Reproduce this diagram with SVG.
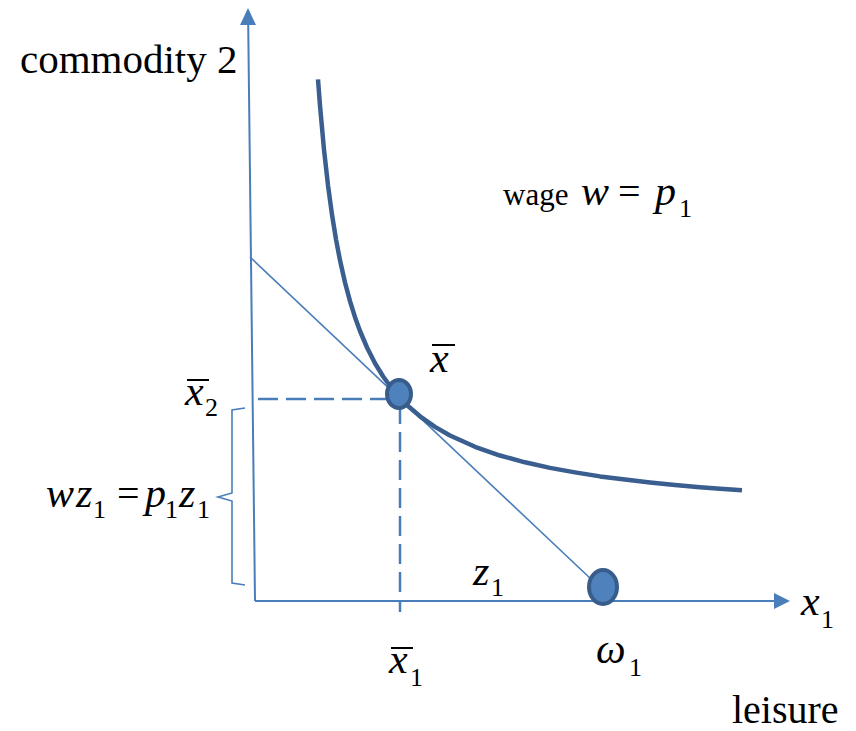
<svg xmlns="http://www.w3.org/2000/svg" width="856" height="731" viewBox="0 0 856 731">
<style>
.ax{stroke:#4A7EBB;stroke-width:2;fill:none}
.bl{stroke:#4A7EBB;stroke-width:1.6;fill:none}
.ds{stroke:#4A7EBB;stroke-width:2.5;fill:none;stroke-dasharray:20 8}
.ic{stroke:#3A5E8F;stroke-width:4.5;fill:none;stroke-linejoin:round}
.pt{fill:#4F81BD;stroke:#385D8A;stroke-width:4}
.ah{fill:#4A7EBB}
.bar{stroke:#000;stroke-width:2}
</style>
<g id="connectors">
<path class="ax" d="M255,601 L248.2,24"/>
<path class="ah" d="M248,8 L256,25 L240,25 Z"/>
<path class="ax" d="M255,601 L775,601"/>
<path class="ah" d="M790,601 L774,593 L774,609 Z"/>
<path class="bl" d="M250,257 L592,580"/>
<path class="ds" d="M258,399 L396,399"/>
<path class="ds" d="M400,404 L400,612"/>
<path class="bl" d="M245,408 L232,410 L232,493 L218,497 L232,501 L232,583 L245,585"/>
</g>
<g id="indifference-curve">
<path class="ic" d="M318,79.4 L320,105.6 L324,149.6 L328,185.3 L332,214.7 L336,239.3 L340,260.3 L345,282.5 L350,301.2 L355,317.2 L360,331 L367,347.5 L375,363.2 L383,376.2 L390,386 L398,395.7 L408,406 L420,416.3 L435,426.9 L450,435.5 L475,446.8 L500,455.5 L525,462.3 L550,467.9 L575,472.4 L600,476.4 L625,479.6 L650,482.5 L675,485 L700,487.2 L720,488.8 L742,490.3"/>
</g>
<g id="point-xbar">
<ellipse class="pt" cx="399" cy="394" rx="12" ry="14"/>
</g>
<g id="point-omega">
<ellipse class="pt" cx="603" cy="587" rx="14" ry="17"/>
</g>
<g id="labels" fill="#000">
<text x="20" y="73" font-size="41" font-family="Liberation Serif, Tinos, Times New Roman, serif">commodity 2</text>
<text x="732" y="723" font-size="40" font-family="Liberation Serif, Tinos, Times New Roman, serif">leisure</text>
<text x="503" y="205" font-size="31" font-family="Liberation Serif, Tinos, Times New Roman, serif">wage</text>
<text x="581" y="205" font-size="42" font-style="italic" font-family="Liberation Serif, Tinos, Times New Roman, serif">w</text>
<text x="618" y="205" font-size="40" font-family="Liberation Serif, Tinos, Times New Roman, serif">=</text>
<text x="655" y="205" font-size="42" font-style="italic" font-family="Liberation Serif, Tinos, Times New Roman, serif">p</text>
<text x="679" y="217" font-size="26" font-family="Liberation Serif, Tinos, Times New Roman, serif">1</text>
<text x="430" y="372" font-size="42" font-style="italic" font-family="Liberation Serif, Tinos, Times New Roman, serif">x</text>
<text x="185" y="405" font-size="42" font-style="italic" font-family="Liberation Serif, Tinos, Times New Roman, serif">x</text>
<text x="205" y="416" font-size="26" font-family="Liberation Serif, Tinos, Times New Roman, serif">2</text>
<text x="46" y="507" font-size="42" font-style="italic" font-family="Liberation Serif, Tinos, Times New Roman, serif">w</text>
<text x="76" y="507" font-size="42" font-style="italic" font-family="Liberation Serif, Tinos, Times New Roman, serif">z</text>
<text x="93" y="518" font-size="26" font-family="Liberation Serif, Tinos, Times New Roman, serif">1</text>
<text x="117" y="507" font-size="40" font-family="Liberation Serif, Tinos, Times New Roman, serif">=</text>
<text x="145" y="507" font-size="42" font-style="italic" font-family="Liberation Serif, Tinos, Times New Roman, serif">p</text>
<text x="165" y="518" font-size="26" font-family="Liberation Serif, Tinos, Times New Roman, serif">1</text>
<text x="179" y="507" font-size="42" font-style="italic" font-family="Liberation Serif, Tinos, Times New Roman, serif">z</text>
<text x="197" y="518" font-size="26" font-family="Liberation Serif, Tinos, Times New Roman, serif">1</text>
<text x="473" y="585" font-size="42" font-style="italic" font-family="Liberation Serif, Tinos, Times New Roman, serif">z</text>
<text x="491" y="596" font-size="26" font-family="Liberation Serif, Tinos, Times New Roman, serif">1</text>
<text x="389" y="673" font-size="42" font-style="italic" font-family="Liberation Serif, Tinos, Times New Roman, serif">x</text>
<text x="410" y="686" font-size="26" font-family="Liberation Serif, Tinos, Times New Roman, serif">1</text>
<text x="596" y="663" font-size="42" font-style="italic" font-family="Liberation Serif, Tinos, Times New Roman, serif">ω</text>
<text x="629" y="676" font-size="26" font-family="Liberation Serif, Tinos, Times New Roman, serif">1</text>
<text x="801" y="615" font-size="42" font-style="italic" font-family="Liberation Serif, Tinos, Times New Roman, serif">x</text>
<text x="821" y="628" font-size="26" font-family="Liberation Serif, Tinos, Times New Roman, serif">1</text>
<line class="bar" x1="432" y1="345" x2="455" y2="345"/>
<line class="bar" x1="187" y1="380" x2="209" y2="380"/>
<line class="bar" x1="391" y1="648" x2="413" y2="648"/>
</g>
</svg>
